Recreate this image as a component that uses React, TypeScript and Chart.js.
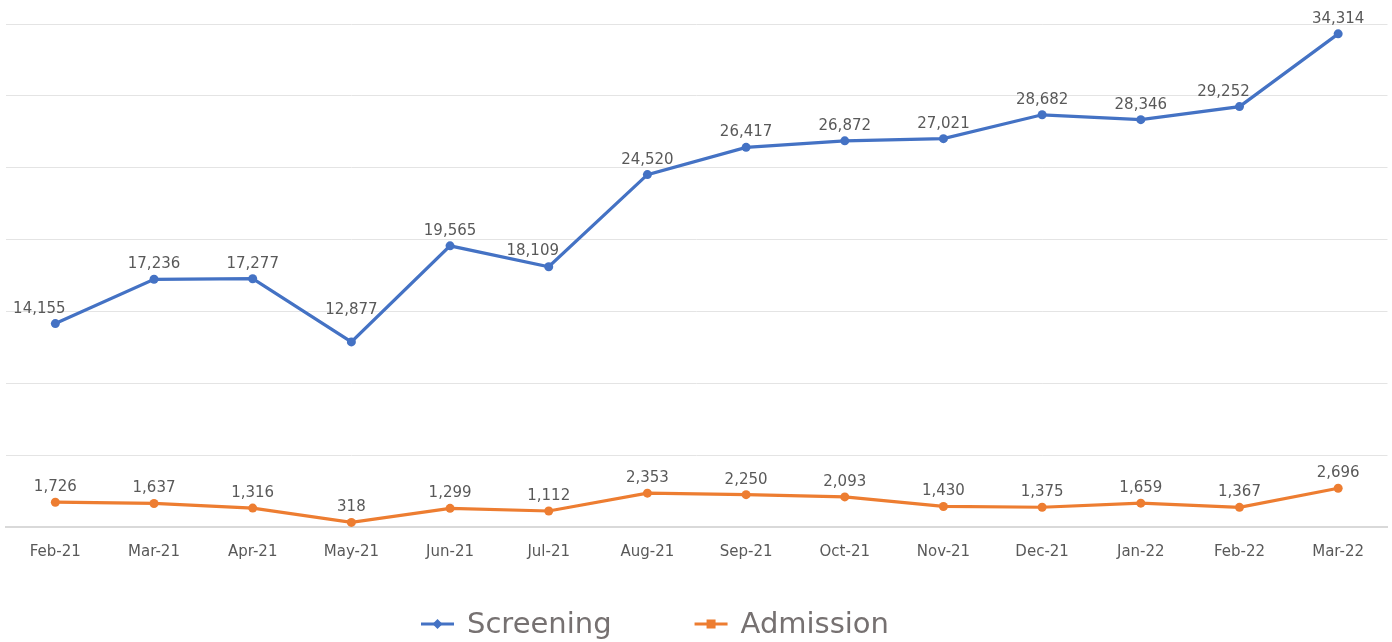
import React, { useEffect, useRef } from "react";
import { Chart, registerables } from "chart.js";

Chart.register(...registerables);

const categories = ["Feb-21", "Mar-21", "Apr-21", "May-21", "Jun-21", "Jul-21", "Aug-21", "Sep-21", "Oct-21", "Nov-21", "Dec-21", "Jan-22", "Feb-22", "Mar-22"];
const screening = [14155, 17236, 17277, 12877, 19565, 18109, 24520, 26417, 26872, 27021, 28682, 28346, 29252, 34314];
const admission = [1726, 1637, 1316, 318, 1299, 1112, 2353, 2250, 2093, 1430, 1375, 1659, 1367, 2696];
const seriesNames = ["Screening", "Admission"];
const seriesColors = ["#4472C4", "#ED7D31"];
const legendMarkers = ["diamond", "square"];
const yMin = 0;
const yMax = 35000;
const yStep = 5000;

const FONT = "'DejaVu Sans', sans-serif";

function boxHitsLines(chart: any, l: number, r: number, t: number, b: number, m: number) {
  for (let i = 0; i < chart.data.datasets.length; i++) {
    const pts = chart.getDatasetMeta(i).data;
    for (let k = 0; k < pts.length - 1; k++) {
      const a = pts[k], c = pts[k + 1];
      const steps = Math.max(2, Math.ceil(Math.abs(c.x - a.x)));
      for (let s = 0; s <= steps; s++) {
        const x = a.x + ((c.x - a.x) * s) / steps;
        const y = a.y + ((c.y - a.y) * s) / steps;
        if (x >= l - m && x <= r + m && y >= t - m && y <= b + m) return true;
      }
    }
  }
  return false;
}

const dataLabelPlugin = {
  id: "dataLabels",
  afterDatasetsDraw(chart: any) {
    const ctx = chart.ctx;
    ctx.save();
    ctx.font = `15px ${FONT}`;
    ctx.fillStyle = "#595959";
    ctx.textAlign = "center";
    ctx.textBaseline = "alphabetic";
    chart.data.datasets.forEach((ds: any, i: number) => {
      const meta = chart.getDatasetMeta(i);
      meta.data.forEach((pt: any, j: number) => {
        const text = (ds.data[j] as number).toLocaleString("en-US");
        const w = ctx.measureText(text).width;
        let fx = pt.x, fy = pt.y - 11;
        let found = false;
        for (let off = 11; off <= 60 && !found; off++) {
          for (const dx of [0, -16, 16]) {
            const cx = pt.x + dx;
            const bottom = pt.y - off;
            if (!boxHitsLines(chart, cx - w / 2, cx + w / 2, bottom - 11, bottom, 1)) {
              fx = cx;
              fy = bottom;
              found = true;
              break;
            }
          }
        }
        ctx.fillText(text, fx, fy);
      });
    });
    ctx.restore();
  },
};

const legendPlugin = {
  id: "customLegend",
  afterDraw(chart: any) {
    const ctx = chart.ctx;
    ctx.save();
    ctx.font = `29px ${FONT}`;
    ctx.textBaseline = "middle";
    ctx.textAlign = "left";
    const cy = 624;
    const lineW = 33;
    const gapLT = 13;
    const gapItems = 83;
    const widths = seriesNames.map((n) => ctx.measureText(n).width);
    const total = widths.reduce((a, w) => a + lineW + gapLT + w, 0) + gapItems * (seriesNames.length - 1);
    let x = 655 - total / 2;
    seriesNames.forEach((name, i) => {
      const color = seriesColors[i];
      ctx.strokeStyle = color;
      ctx.lineWidth = 3;
      ctx.beginPath();
      ctx.moveTo(x, cy);
      ctx.lineTo(x + lineW, cy);
      ctx.stroke();
      ctx.fillStyle = color;
      const mx = x + lineW / 2;
      if (legendMarkers[i] === "diamond") {
        ctx.beginPath();
        ctx.moveTo(mx, cy - 5);
        ctx.lineTo(mx + 5, cy);
        ctx.lineTo(mx, cy + 5);
        ctx.lineTo(mx - 5, cy);
        ctx.closePath();
        ctx.fill();
      } else {
        ctx.fillRect(mx - 4.5, cy - 4.5, 9, 9);
      }
      ctx.fillStyle = "#767171";
      ctx.fillText(name, x + lineW + gapLT, cy + 1);
      x += lineW + gapLT + widths[i] + gapItems;
    });
    ctx.restore();
  },
};

export default function App() {
  const ref = useRef<HTMLCanvasElement | null>(null);
  useEffect(() => {
    if (!ref.current) return;
    const chart = new Chart(ref.current, {
      type: "line",
      data: {
        labels: categories,
        datasets: [
          {
            label: seriesNames[0],
            data: screening,
            borderColor: seriesColors[0],
            backgroundColor: seriesColors[0],
            borderWidth: 3.2,
            pointRadius: 4.5,
            pointHoverRadius: 4.5,
            pointBorderWidth: 0,
            tension: 0,
          },
          {
            label: seriesNames[1],
            data: admission,
            borderColor: seriesColors[1],
            backgroundColor: seriesColors[1],
            borderWidth: 3.2,
            pointRadius: 4.5,
            pointHoverRadius: 4.5,
            pointBorderWidth: 0,
            tension: 0,
          },
        ],
      },
      options: {
        animation: false,
        responsive: false,
        layout: { padding: { left: 6, right: 2, top: 24, bottom: 0 } },
        plugins: { legend: { display: false }, tooltip: { enabled: false } },
        scales: {
          x: {
            offset: true,
            grid: { display: false, drawTicks: false },
            border: { display: true, color: "#d9d9d9", width: 2 },
            ticks: { font: { family: FONT, size: 15 }, color: "#595959", padding: 16, maxRotation: 0, autoSkip: false },
            afterFit(scale: any) {
              scale.height = 115;
            },
          },
          y: {
            min: yMin,
            max: yMax,
            grid: { color: "#e4e4e4", lineWidth: 1, drawTicks: false },
            border: { display: false },
            ticks: { display: false, stepSize: yStep },
            afterFit(scale: any) {
              scale.width = 0;
            },
          },
        },
      },
      plugins: [dataLabelPlugin, legendPlugin],
    });
    return () => chart.destroy();
  }, []);
  return (
    <div style={{ position: "absolute", left: 0, top: 0, width: 1392, height: 642, background: "#fff" }}>
      <canvas ref={ref} width={1392} height={642} />
    </div>
  );
}
